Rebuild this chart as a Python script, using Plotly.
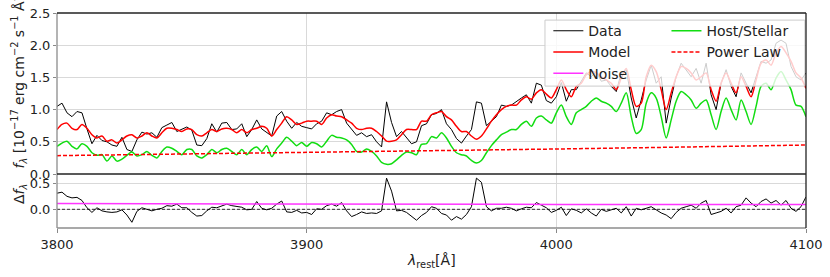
import numpy as np
import plotly.graph_objects as go

# ---------------- data ----------------
wave_start, wave_end, wave_step = 3800.0, 4100.0, 2.0
wave = np.arange(wave_start, wave_end + 0.5 * wave_step, wave_step)

data_flux = [
    1.05, 1.10, 0.95, 0.89, 0.97, 0.95, 0.70, 0.47, 0.60, 0.52,
    0.50, 0.45, 0.43, 0.57, 0.38, 0.35, 0.53, 0.65, 0.62, 0.64,
    0.57, 0.72, 0.76, 0.80, 0.66, 0.70, 0.73, 0.68, 0.45, 0.44,
    0.55, 0.78, 0.65, 0.79, 0.80, 0.69, 0.70, 0.78, 0.58, 0.69,
    0.84, 0.70, 0.65, 0.59, 0.90, 0.97, 0.82, 0.71, 0.80, 0.74,
    0.72, 0.70, 0.78, 0.82, 0.95, 0.92, 0.97, 1.00, 0.79, 0.70,
    0.60, 0.64, 0.58, 0.61, 0.50, 0.42, 1.12, 0.80, 0.58, 0.66,
    0.56, 0.47, 0.50, 0.75, 0.78,
    0.92, 0.94, 1.00, 0.78, 0.69, 0.55, 0.48, 0.59, 0.69, 1.12,
    1.10, 0.75, 0.82, 0.89, 1.07, 1.05, 1.07, 1.13, 1.18, 1.23,
    1.10, 1.41, 1.38, 1.14, 1.10, 1.20, 1.42, 1.13, 1.31, 1.31,
    1.44, 1.57, 1.51, 1.59, 1.44, 1.46, 1.36, 1.28, 1.57, 1.62,
    1.18, 0.87, 1.15, 1.46, 1.69, 1.41, 1.51, 0.79, 1.18, 1.51,
    1.72, 1.62, 1.51, 1.64, 1.41, 1.72, 1.23, 1.00, 1.41, 1.62,
    1.36, 1.20, 1.57, 1.41, 1.26, 1.51, 1.75, 1.72, 1.77, 2.03,
    2.08, 2.03, 1.67, 1.51, 1.46, 1.57,
]

model_flux = [
    0.69, 0.77, 0.79, 0.71, 0.69, 0.77, 0.71, 0.61, 0.56, 0.59,
    0.51, 0.53, 0.48, 0.53, 0.59, 0.61, 0.56, 0.59, 0.64, 0.59,
    0.56, 0.64, 0.71, 0.71, 0.69, 0.66, 0.70, 0.69, 0.61, 0.59,
    0.64, 0.69, 0.66, 0.70, 0.71, 0.69, 0.64, 0.69, 0.64, 0.69,
    0.71, 0.74, 0.71, 0.59, 0.69, 0.79, 0.89, 0.84, 0.77, 0.79,
    0.82, 0.82, 0.82, 0.77, 0.87, 0.92, 0.90, 0.89, 0.84, 0.79,
    0.71, 0.69, 0.71, 0.71, 0.66, 0.59, 0.51, 0.51, 0.53, 0.61,
    0.69, 0.69, 0.69, 0.82, 0.82,
    0.92, 0.95, 0.97, 0.89, 0.84, 0.74, 0.66, 0.66, 0.59, 0.54,
    0.59, 0.70, 0.82, 0.92, 1.00, 1.05, 1.07, 1.07, 1.15, 1.20,
    1.16, 1.26, 1.31, 1.24, 1.18, 1.31, 1.46, 1.31, 1.20, 1.36,
    1.41, 1.54, 1.59, 1.57, 1.51, 1.46, 1.41, 1.31, 1.49, 1.64,
    1.31, 1.05, 1.10, 1.51, 1.69, 1.59, 1.31, 1.00, 1.26, 1.51,
    1.67, 1.64, 1.57, 1.46, 1.51, 1.57, 1.31, 1.13, 1.41, 1.57,
    1.41, 1.26, 1.51, 1.36, 1.20, 1.46, 1.72, 1.77, 1.69, 1.88,
    1.98, 1.88, 1.75, 1.57, 1.49, 1.33,
]

host_flux = [
    0.43, 0.48, 0.51, 0.43, 0.39, 0.47, 0.43, 0.33, 0.29, 0.30,
    0.20, 0.28, 0.20, 0.23, 0.29, 0.34, 0.28, 0.30, 0.35, 0.29,
    0.25, 0.35, 0.42, 0.40, 0.35, 0.30, 0.38, 0.38, 0.28, 0.25,
    0.30, 0.38, 0.33, 0.38, 0.40, 0.35, 0.30, 0.38, 0.30, 0.38,
    0.42, 0.35, 0.44, 0.27, 0.39, 0.48, 0.57, 0.51, 0.44, 0.49,
    0.43, 0.49, 0.47, 0.42, 0.51, 0.60, 0.57, 0.56, 0.53, 0.46,
    0.35, 0.34, 0.39, 0.35, 0.28, 0.18, 0.15, 0.16, 0.22, 0.29,
    0.34, 0.33, 0.30, 0.46, 0.47,
    0.58, 0.56, 0.64, 0.56, 0.43, 0.33, 0.30, 0.28, 0.21, 0.17,
    0.21, 0.33, 0.44, 0.53, 0.61, 0.65, 0.69, 0.69, 0.77, 0.82,
    0.74, 0.87, 0.90, 0.84, 0.79, 0.95, 1.07, 0.89, 0.77, 0.95,
    1.00, 1.05, 1.13, 1.18, 1.13, 1.10, 1.05, 0.97, 1.10, 1.26,
    0.89, 0.63, 0.69, 1.10, 1.26, 1.18, 0.89, 0.56, 0.84, 1.13,
    1.28, 1.23, 1.15, 1.02, 1.10, 1.15, 0.92, 0.69, 0.97, 1.18,
    1.00, 0.84, 1.15, 0.97, 0.77, 1.05, 1.36, 1.41, 1.31, 1.49,
    1.59, 1.46, 1.31, 1.07, 1.05, 0.89,
]

residual = [
    0.31, 0.33, 0.25, 0.22, 0.23, 0.17, 0.03, -0.06, 0.03, -0.03,
    -0.05, -0.06, -0.05, -0.01, -0.11, -0.25, -0.04, 0.03, 0.00, -0.03,
    0.00, 0.02, 0.07, 0.06, 0.10, 0.03, 0.03, -0.06, -0.13, -0.12,
    -0.03, 0.04, 0.03, 0.07, 0.10, 0.07, 0.05, 0.04, -0.01, 0.00,
    0.15, 0.02, -0.01, 0.02, 0.10, 0.16, -0.05, -0.06, -0.02, -0.07,
    -0.06, -0.10, 0.01, 0.00, 0.07, 0.10, 0.06, 0.13, -0.03, -0.14,
    -0.10, -0.05, -0.08, -0.07, -0.08, -0.03, 0.60, 0.35, -0.03, -0.02,
    -0.06, -0.14, -0.21, -0.12, -0.06,
    0.05, 0.02, -0.08, -0.11, -0.21, -0.14, -0.19, -0.10, 0.05, 0.60,
    0.52, 0.05, -0.03, 0.02, 0.02, 0.04, 0.02, -0.03, 0.01, 0.04,
    0.03, 0.13, 0.08, 0.03, -0.06, -0.02, 0.04, -0.12, 0.01, -0.02,
    -0.07, 0.01, -0.07, -0.13, 0.00, -0.04, -0.01, 0.02, -0.07, 0.05,
    -0.13, 0.02, -0.01, 0.02, 0.05, -0.01, -0.07, -0.11, -0.18, -0.06,
    0.02, 0.05, 0.08, 0.02, 0.12, 0.17, -0.10, -0.07, -0.04, 0.02,
    -0.07, 0.05, 0.08, 0.22, 0.12, 0.05, 0.15, 0.20, 0.12, 0.17,
    0.08, 0.17, 0.02, -0.04, 0.05, 0.24,
]

pl_wave = [3800, 3850, 3900, 3950, 4000, 4050, 4100]
pl_flux = [0.285, 0.308, 0.333, 0.358, 0.388, 0.418, 0.450]

noise_wave = [3800, 3900, 4000, 4100]
noise_level = [0.110, 0.100, 0.095, 0.095]

x_ticks = [3800, 3900, 4000, 4100]
top_yticks = [0.0, 0.5, 1.0, 1.5, 2.0, 2.5]
bot_yticks = [0.0, 0.5]

# ---------------- figure ----------------
FONT = "DejaVu Sans"
GRID = "#d9d9d9"
split = 54.0 / 215.0

fig = go.Figure()

fig.add_trace(go.Scatter(x=wave, y=data_flux, mode="lines", name="Data",
                         line=dict(color="black", width=1.0),
                         xaxis="x", yaxis="y", legend="legend", legendrank=1))
fig.add_trace(go.Scatter(x=wave, y=model_flux, mode="lines", name="Model",
                         line=dict(color="#ff0000", width=1.5, shape="spline", smoothing=0.8),
                         xaxis="x", yaxis="y", legend="legend", legendrank=2))
fig.add_trace(go.Scatter(x=wave, y=host_flux, mode="lines", name="Host/Stellar",
                         line=dict(color="#11dd11", width=1.5, shape="spline", smoothing=0.8),
                         xaxis="x", yaxis="y", legend="legend2", legendrank=1))
fig.add_trace(go.Scatter(x=pl_wave, y=pl_flux, mode="lines", name="Power Law",
                         line=dict(color="#ff0000", width=1.5, dash="4px,2px"),
                         xaxis="x", yaxis="y", legend="legend2", legendrank=2))
fig.add_trace(go.Scatter(x=wave, y=residual, mode="lines", name="Residual",
                         line=dict(color="black", width=1.0),
                         xaxis="x2", yaxis="y2", showlegend=False))
fig.add_trace(go.Scatter(x=noise_wave, y=noise_level, mode="lines", name="Noise",
                         line=dict(color="#ff33ff", width=1.5),
                         xaxis="x2", yaxis="y2", legend="legend", legendrank=3))

axis_common = dict(showline=False, zeroline=False, showgrid=True, gridcolor=GRID,
                   gridwidth=1, tickfont=dict(family=FONT, size=13, color="#222"),
                   automargin=False)

fig.update_layout(
    width=830, height=277,
    margin=dict(l=57, r=24, t=13, b=49),
    paper_bgcolor="white", plot_bgcolor="white",
    template="none",
    font=dict(family=FONT, size=13, color="#222"),
    xaxis=dict(domain=[0, 1], range=[3800, 4100], anchor="y", matches="x2",
               tickvals=x_ticks, showticklabels=False, ticks="", **axis_common),
    yaxis=dict(domain=[split, 1], range=[0, 2.5], anchor="x",
               tickvals=top_yticks, tickformat=".1f", ticks="outside", ticklen=3,
               tickcolor="#888", **axis_common),
    xaxis2=dict(domain=[0, 1], range=[3800, 4100], anchor="y2",
                tickvals=x_ticks, ticks="outside", ticklen=4, tickcolor="#888",
                **axis_common),
    yaxis2=dict(domain=[0, split], range=[-0.36, 0.68], anchor="x2",
                tickvals=bot_yticks, tickformat=".1f", ticks="outside", ticklen=3,
                tickcolor="#888", **axis_common),
    legend=dict(x=0.656, y=0.99, xanchor="left", yanchor="top",
                bgcolor="rgba(0,0,0,0)", borderwidth=0, tracegroupgap=0,
                font=dict(family=FONT, size=14, color="#222")),
    legend2=dict(x=0.8137, y=0.99, xanchor="left", yanchor="top",
                 bgcolor="rgba(0,0,0,0)", borderwidth=0, tracegroupgap=0,
                 font=dict(family=FONT, size=14, color="#222")),
    showlegend=True,
)

shapes = []
# zero reference line in the residual panel
shapes.append(dict(type="line", xref="x2 domain", yref="y2", x0=0, x1=1, y0=0, y1=0,
                   line=dict(color="black", width=0.8, dash="3px,2px"), layer="above"))
# legend frame (semi-transparent, like matplotlib framealpha=0.8)
shapes.append(dict(type="rect", xref="paper", yref="paper",
                   x0=0.6515, x1=0.9985, y0=0.660, y1=0.967,
                   fillcolor="rgba(255,255,255,0.8)",
                   line=dict(color="#cccccc", width=1), layer="above"))
# spines
shapes.append(dict(type="line", xref="paper", yref="paper", x0=0, x1=0, y0=0, y1=1,
                   line=dict(color="#8c8c8c", width=1.3), layer="above"))
shapes.append(dict(type="line", xref="paper", yref="paper", x0=0, x1=1, y0=0, y1=0,
                   line=dict(color="#8c8c8c", width=1.3), layer="above"))
shapes.append(dict(type="line", xref="paper", yref="paper", x0=0, x1=1, y0=1, y1=1,
                   line=dict(color="#222222", width=1.3), layer="above"))
shapes.append(dict(type="line", xref="paper", yref="paper", x0=1, x1=1, y0=0, y1=1,
                   line=dict(color="#222222", width=1.3), layer="above"))
shapes.append(dict(type="line", xref="paper", yref="paper", x0=0, x1=1, y0=split, y1=split,
                   line=dict(color="#222222", width=1.3), layer="above"))
fig.update_layout(shapes=shapes)

annotations = [
    dict(text="<i>f</i><sub><i>λ</i></sub> [10<sup>−17</sup> erg cm<sup>−2</sup> s<sup>−1</sup> Å<sup>−1</sup>]",
         xref="paper", yref="paper", x=-0.0494, y=(228 - 170) / 215.0,
         xanchor="center", yanchor="bottom", textangle=-90, showarrow=False,
         font=dict(family=FONT, size=14, color="#222")),
    dict(text="Δ<i>f</i><sub><i>λ</i></sub>",
         xref="paper", yref="paper", x=-0.0494, y=(228 - 194) / 215.0,
         xanchor="center", yanchor="middle", textangle=-90, showarrow=False,
         font=dict(family=FONT, size=14, color="#222")),
    dict(text="<i>λ</i><sub>rest</sub>[Å]",
         xref="paper", yref="paper", x=0.5, y=(228 - 261) / 215.0,
         xanchor="center", yanchor="middle", showarrow=False,
         font=dict(family=FONT, size=14, color="#222")),
]
fig.update_layout(annotations=annotations)

fig.write_html("out.html",
               config={"displayModeBar": False},
               post_script="document.body.style.margin='0px';document.body.style.padding='0px';")
